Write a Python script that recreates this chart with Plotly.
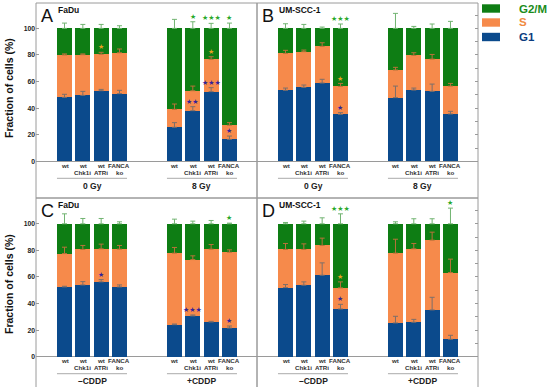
import plotly.graph_objects as go

W, H = 550, 387

# ---------------- data ----------------
bar_labels_top = ["wt", "wt", "wt", "FANCA", "wt", "wt", "wt", "FANCA"]
bar_labels_bot = ["", "Chk1i", "ATRi", "ko", "", "Chk1i", "ATRi", "ko"]
groups_ir = ["0 Gy", "8 Gy"]
groups_cddp = ["–CDDP", "+CDDP"]
bar_pos = [0, 1, 2, 3, 6, 7, 8, 9]

# Panel A (FaDu, IR)
g1_A = [48.1, 49.6, 53.1, 50.9, 25.6, 38.1, 52.4, 16.5]
s_A = [31.9, 30.6, 27.4, 30.8, 13.5, 15.0, 24.3, 10.6]
g2m_A = [20.0, 19.8, 19.5, 18.3, 60.9, 46.9, 23.3, 72.9]
eg1_A = [2.3, 3.0, 1.0, 2.5, 3.5, 3.0, 3.0, 2.5]
es_A = [0.8, 0.6, 1.5, 2.8, 4.0, 3.5, 2.0, 2.0]
eg2m_A = [4.0, 3.0, 3.0, 2.0, 6.8, 5.0, 3.8, 4.0]

# Panel B (UM-SCC-1, IR)
g1_B = [53.4, 55.6, 58.9, 35.3, 47.9, 53.6, 52.6, 35.6]
s_B = [27.8, 26.9, 27.6, 21.1, 20.8, 26.1, 24.3, 21.0]
g2m_B = [18.8, 17.5, 13.5, 43.6, 31.3, 20.3, 23.1, 43.4]
eg1_B = [1.7, 1.8, 2.8, 1.3, 8.7, 1.5, 5.5, 2.0]
es_B = [2.3, 1.2, 2.7, 2.2, 2.0, 2.0, 3.5, 2.0]
eg2m_B = [3.5, 3.0, 1.0, 3.3, 11.3, 1.5, 3.3, 5.3]

# Panel C (FaDu, CDDP)
g1_C = [52.5, 54.0, 56.3, 52.5, 24.1, 30.7, 26.1, 21.6]
s_C = [25.1, 26.7, 24.9, 28.4, 53.8, 42.4, 54.8, 57.0]
g2m_C = [22.4, 19.3, 18.8, 19.1, 22.1, 26.9, 19.1, 21.4]
eg1_C = [0.5, 2.5, 1.7, 1.5, 0.5, 0.7, 0.5, 1.5]
es_C = [4.8, 3.0, 3.5, 2.8, 4.3, 2.8, 3.5, 1.8]
eg2m_C = [7.5, 4.0, 4.0, 1.5, 3.5, 2.0, 2.5, 0.5]

# Panel D (UM-SCC-1, CDDP)
g1_D = [52.0, 53.8, 61.3, 35.9, 25.4, 25.9, 35.2, 13.1]
s_D = [28.7, 26.9, 22.4, 15.9, 52.5, 55.3, 52.5, 50.2]
g2m_D = [19.3, 19.3, 16.3, 48.2, 22.1, 18.8, 12.3, 36.7]
eg1_D = [2.3, 2.5, 9.3, 3.5, 5.0, 2.2, 9.5, 3.0]
es_D = [4.5, 4.2, 5.5, 4.5, 10.5, 4.0, 6.0, 10.1]
eg2m_D = [1.0, 2.0, 4.5, 7.5, 1.5, 3.8, 3.8, 11.8]

# significance stars: (bar index, phase, text)
stars_A = [(5, "G2M", "★"), (6, "G2M", "★★★"), (7, "G2M", "★"), (2, "S", "★"),
           (6, "S", "★"), (5, "G1", "★★"), (6, "G1", "★★★"), (7, "G1", "★")]
stars_B = [(3, "G2M", "★★★"), (3, "S", "★"), (3, "G1", "★")]
stars_C = [(2, "G1", "★"), (5, "G1", "★★★"), (7, "G1", "★"), (7, "G2M", "★")]
stars_D = [(3, "G2M", "★★★"), (3, "S", "★"), (3, "G1", "★"), (7, "G2M", "★")]

phases = ["G1", "S", "G2/M"]

# ---------------- style ----------------
C_G1, C_S, C_G2M = "#0b4a8c", "#f68a4b", "#0e7d14"
E_G1, E_S, E_G2M = "#7d6f6a", "#b8733a", "#72b472"
STAR = {"G1": "#33229a", "S": "#e8a020", "G2M": "#2aa82a"}
FRAME = "#9a9a9a"
FONT = "Liberation Sans, Arial, sans-serif"

def XP(px):
    return px / W

def YP(py):
    return 1 - py / H

cols = [(36, 257), (257, 478)]
rows = [(3, 198), (198, 387)]
zero_px = [161.3, 356.7]
scale = 1.329  # px per %
unit = 18.33   # px per bar slot

panels = [
    dict(letter="A", name="FaDu", col=0, row=0, g1=g1_A, s=s_A, g2m=g2m_A,
         e=(eg1_A, es_A, eg2m_A), stars=stars_A, groups=groups_ir),
    dict(letter="B", name="UM-SCC-1", col=1, row=0, g1=g1_B, s=s_B, g2m=g2m_B,
         e=(eg1_B, es_B, eg2m_B), stars=stars_B, groups=groups_ir),
    dict(letter="C", name="FaDu", col=0, row=1, g1=g1_C, s=s_C, g2m=g2m_C,
         e=(eg1_C, es_C, eg2m_C), stars=stars_C, groups=groups_cddp),
    dict(letter="D", name="UM-SCC-1", col=1, row=1, g1=g1_D, s=s_D, g2m=g2m_D,
         e=(eg1_D, es_D, eg2m_D), stars=stars_D, groups=groups_cddp),
]

fig = go.Figure()
annotations = []
shapes = []
bw = 0.82
layout_axes = {}

for k, p in enumerate(panels):
    n = "" if k == 0 else str(k + 1)
    xa, ya = "x" + n, "y" + n
    x0, x1 = cols[p["col"]]
    y0, y1 = rows[p["row"]]
    z = zero_px[p["row"]]
    yr = [(z - y1) / scale, (z - y0) / scale]
    xr = [-28.5 / unit, (x1 - x0 - 28.5) / unit]

    tops_g1 = p["g1"]
    tops_s = [a + b for a, b in zip(p["g1"], p["s"])]
    tops_g2m = [a + b for a, b in zip(tops_s, p["g2m"])]
    for vals, col, nm in [(p["g1"], C_G1, "G1"), (p["s"], C_S, "S"), (p["g2m"], C_G2M, "G2/M")]:
        fig.add_trace(go.Bar(x=bar_pos, y=vals, width=bw, marker=dict(color=col, line=dict(width=0)),
                             name=nm, showlegend=False, xaxis=xa, yaxis=ya))
    for tops, err, ec in [(tops_g1, p["e"][0], E_G1), (tops_s, p["e"][1], E_S), (tops_g2m, p["e"][2], E_G2M)]:
        fig.add_trace(go.Scatter(x=bar_pos, y=tops, mode="markers", marker=dict(size=1, opacity=0),
                                 error_y=dict(type="data", symmetric=False, array=err,
                                              arrayminus=[0] * len(err), color=ec, thickness=1, width=2.5),
                                 showlegend=False, hoverinfo="skip", xaxis=xa, yaxis=ya))

    # stars
    tops_map = {"G1": (tops_g1, p["e"][0]), "S": (tops_s, p["e"][1]), "G2M": (tops_g2m, p["e"][2])}
    for (i, ph, txt) in p["stars"]:
        t, e = tops_map[ph]
        annotations.append(dict(x=bar_pos[i], y=t[i] + e[i] + 3.7, xref=xa, yref=ya, text=txt,
                                showarrow=False, font=dict(family="DejaVu Sans", size=7, color=STAR[ph]),
                                xanchor="center", yanchor="middle"))

    # category labels
    for i, xp in enumerate(bar_pos):
        annotations.append(dict(x=xp, y=-3.2, xref=xa, yref=ya, text=bar_labels_top[i], showarrow=False,
                                font=dict(family=FONT, size=6.2, color="#333", weight="bold"),
                                xanchor="center", yanchor="middle"))
        if bar_labels_bot[i]:
            annotations.append(dict(x=xp, y=-8.3, xref=xa, yref=ya, text=bar_labels_bot[i], showarrow=False,
                                    font=dict(family=FONT, size=6.2, color="#333", weight="bold"),
                                    xanchor="center", yanchor="middle"))
    for gi, g in enumerate(p["groups"]):
        gp = bar_pos[gi * 4:(gi + 1) * 4]
        shapes.append(dict(type="line", xref=xa, yref=ya, x0=gp[0] - bw / 2, x1=gp[-1] + bw / 2,
                           y0=-12.8, y1=-12.8, line=dict(color="#aaaaaa", width=1)))
        annotations.append(dict(x=(gp[0] + gp[-1]) / 2, y=-18.3, xref=xa, yref=ya, text=g, showarrow=False,
                                font=dict(family=FONT, size=8.5, color="#222", weight="bold"),
                                xanchor="center", yanchor="middle"))

    # panel letter + cell line
    annotations.append(dict(x=XP(x0 + 3), y=YP(y0 + 13), xref="paper", yref="paper", text=p["letter"],
                            showarrow=False, font=dict(family=FONT, size=18, color="#111"),
                            xanchor="left", yanchor="middle"))
    annotations.append(dict(x=XP(x0 + 20), y=YP(y0 + 7), xref="paper", yref="paper", text=p["name"],
                            showarrow=False, font=dict(family=FONT, size=8.5, color="#111", weight="bold"),
                            xanchor="left", yanchor="middle"))

    # frame
    shapes.append(dict(type="rect", xref="paper", yref="paper", x0=XP(x0), x1=XP(x1),
                       y0=YP(y0 + 195), y1=YP(y0), line=dict(color=FRAME, width=1), layer="above"))

    xdict = dict(domain=[XP(x0), XP(x1)], range=xr, showticklabels=False, showgrid=False,
                 zeroline=False, showline=False, ticks="", anchor=ya, fixedrange=True)
    if p["col"] == 0:
        ydict = dict(domain=[YP(y1), YP(y0)], range=yr, tickvals=[0, 20, 40, 60, 80, 100],
                     ticks="inside", ticklen=3, tickcolor=FRAME, showgrid=False,
                     tickfont=dict(family=FONT, size=6.8, color="#222", weight="bold"),
                     zeroline=True, zerolinecolor=FRAME, zerolinewidth=1, showline=False, anchor=xa)
    else:
        ydict = dict(domain=[YP(y1), YP(y0)], range=yr, tickvals=list(range(0, 111, 10)),
                     ticks="inside", ticklen=3, tickcolor=FRAME, showgrid=False, side="right",
                     showticklabels=False, zeroline=True, zerolinecolor=FRAME, zerolinewidth=1,
                     showline=False, anchor=xa)
    layout_axes["xaxis" + n] = xdict
    layout_axes["yaxis" + n] = ydict

# y-axis titles
for yc in [88, 284]:
    annotations.append(dict(x=XP(9), y=YP(yc), xref="paper", yref="paper", text="Fraction of cells (%)",
                            showarrow=False, textangle=-90,
                            font=dict(family=FONT, size=10.5, color="#111", weight="bold"),
                            xanchor="center", yanchor="middle"))

# legend
leg = [("G2/M", C_G2M, "#1b8c1b", 8.5), ("S", C_S, "#f08a40", 22.5), ("G1", C_G1, "#0b3c80", 37)]
for txt, fc, tc, yc in leg:
    shapes.append(dict(type="rect", xref="paper", yref="paper", x0=XP(482), x1=XP(500),
                       y0=YP(yc + 4.2), y1=YP(yc - 4.2), fillcolor=fc, line=dict(width=0)))
    annotations.append(dict(x=XP(517), y=YP(yc), xref="paper", yref="paper", text=txt, showarrow=False,
                            font=dict(family=FONT, size=11.5, color=tc, weight="bold"),
                            xanchor="left", yanchor="middle"))

fig.update_layout(width=W, height=H, margin=dict(l=0, r=0, t=0, b=0), barmode="stack",
                  plot_bgcolor="white", paper_bgcolor="white", showlegend=False,
                  annotations=annotations, shapes=shapes, **layout_axes)

fig.write_html("out.html", config={"displayModeBar": False},
               post_script="document.body.style.margin='0';document.body.style.padding='0';"
                           "document.documentElement.style.overflow='hidden';")
